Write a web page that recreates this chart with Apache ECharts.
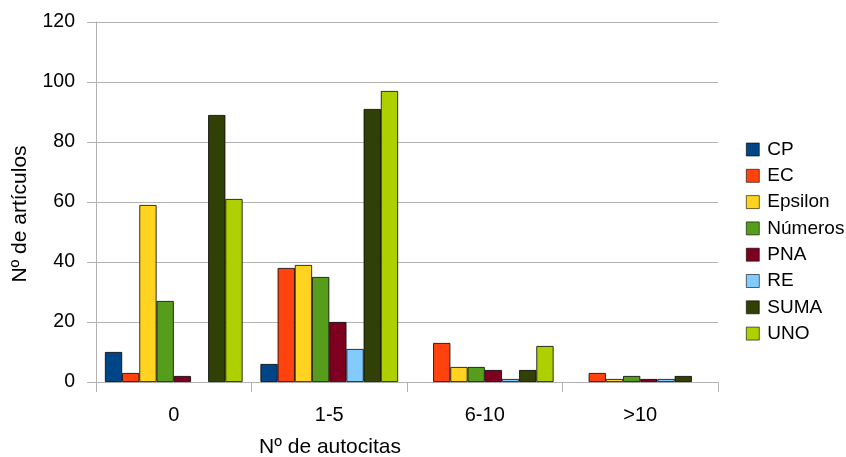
<!DOCTYPE html>
<html><head><meta charset="utf-8">
<script src="https://cdn.jsdelivr.net/npm/echarts@6/dist/echarts.min.js"></script>
<style>html,body{margin:0;padding:0;background:#fff}#c{width:846px;height:457px}</style>
</head><body><div id="c"></div>
<script>
const categories = ['0', '1-5', '6-10', '>10'];
const seriesNames = ['CP', 'EC', 'Epsilon', 'Números', 'PNA', 'RE', 'SUMA', 'UNO'];
const CP = [10, 6, 0, 0];
const EC = [3, 38, 13, 3];
const Epsilon = [59, 39, 5, 1];
const Numeros = [27, 35, 5, 2];
const PNA = [2, 20, 4, 1];
const RE = [0, 11, 1, 1];
const SUMA = [89, 91, 4, 2];
const UNO = [61, 97, 12, 0];
const yTicks = [0, 20, 40, 60, 80, 100, 120];
const values = [CP, EC, Epsilon, Numeros, PNA, RE, SUMA, UNO];
const colors = ['#004586', '#ff420e', '#ffd320', '#579d1c', '#7e0021', '#83caff', '#314004', '#aecf00'];

const chart = echarts.init(document.getElementById('c'));
const font = 'Liberation Sans, Arial, sans-serif';
chart.setOption({
  animation: false,
  textStyle: { fontFamily: font },
  grid: { left: 96, right: 128, top: 22, bottom: 75 },
  legend: {
    orient: 'vertical', left: 741, top: 135, icon: 'rect',
    itemWidth: 13, itemHeight: 13, itemGap: 7.3,
    textStyle: { fontSize: 19, color: '#000', fontFamily: font, padding: [0, 0, 0, 3] },
    data: seriesNames.map((n, i) => ({ name: n, itemStyle: { color: colors[i], borderColor: '#000', borderWidth: 0.6 } }))
  },
  graphic: [
    { type: 'text', x: 330, y: 447, style: { text: 'Nº de autocitas', fontSize: 21, fontFamily: font, fill: '#000', align: 'center', verticalAlign: 'middle' } },
    { type: 'text', x: 20, y: 214, rotation: Math.PI / 2, style: { text: 'Nº de artículos', fontSize: 21, fontFamily: font, fill: '#000', align: 'center', verticalAlign: 'middle' } }
  ],
  xAxis: {
    type: 'category', data: categories,
    axisLine: { lineStyle: { color: '#b3b3b3' } },
    axisTick: { show: true, length: 10, lineStyle: { color: '#b3b3b3' } },
    axisLabel: { fontSize: 20, color: '#000', margin: 23 }
  },
  yAxis: {
    type: 'value', min: yTicks[0], max: yTicks[yTicks.length - 1], interval: yTicks[1] - yTicks[0],
    axisLine: { show: true, lineStyle: { color: '#b3b3b3' } },
    axisTick: { show: true, length: 9, lineStyle: { color: '#b3b3b3' } },
    axisLabel: { fontSize: 19.5, color: '#000', margin: 21 },
    splitLine: { lineStyle: { color: '#b3b3b3' } }
  },
  series: seriesNames.map((n, i) => ({
    name: n, type: 'bar', data: values[i].map(v => v === 0 ? '-' : v),
    barGap: '0%', barCategoryGap: '11.5%',
    itemStyle: { color: colors[i], borderColor: '#000', borderWidth: 0.8 }
  }))
});
</script></body></html>
